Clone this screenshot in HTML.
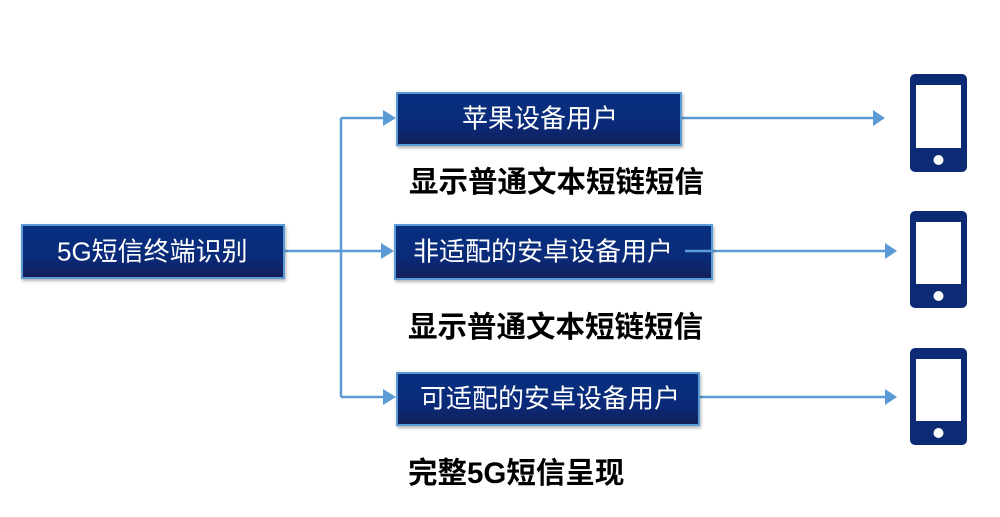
<!DOCTYPE html>
<html><head><meta charset="utf-8"><style>
body{margin:0;width:1000px;height:517px;background:#fff;position:relative;overflow:hidden;font-family:"Liberation Sans","Noto Sans CJK SC",sans-serif}
.b{position:absolute;box-sizing:border-box;border:2px solid #5b9bd5;background:linear-gradient(#06307f,#0a2a7a 60%,#13205a);color:#fff;font-size:26px;box-shadow:1px 2px 3px rgba(0,0,0,.3)}
.b span{position:absolute;top:50%;transform:translateY(-56%);white-space:nowrap}
.t{position:absolute;font-size:29.5px;font-weight:bold;color:#000;white-space:nowrap;line-height:1}
</style></head><body>
<svg width="1000" height="517" style="position:absolute;left:0;top:0">
<g stroke="#5b9bd5" stroke-width="2.5" fill="none">
<line x1="285" y1="251" x2="385" y2="251"/>
<line x1="341" y1="118" x2="341" y2="397"/>
<line x1="341" y1="118" x2="385" y2="118"/>
<line x1="341" y1="397" x2="385" y2="397"/>
</g>
<g fill="#5b9bd5">
<polygon points="383,110 396,118 383,126"/>
<polygon points="381,243 394,251 381,259"/>
<polygon points="383,389 396,397 383,405"/>
<polygon points="873,110 885,118 873,126"/>
<polygon points="885,243 897,251 885,259"/>
<polygon points="885,389 897,397 885,405"/>
</g>
<g stroke="#5b9bd5" stroke-width="2.5">
<line x1="682" y1="118" x2="875" y2="118"/>
<line x1="686" y1="251" x2="887" y2="251"/>
<line x1="700" y1="397" x2="887" y2="397"/>
</g>
<g>
<rect x="910" y="74" width="57" height="98" rx="5" fill="#0d2a75"/><rect x="916" y="85" width="45" height="63" fill="#fff"/><circle cx="938.5" cy="160" r="5" fill="#fff"/>
<rect x="910" y="211" width="57" height="97" rx="5" fill="#0d2a75"/><rect x="916" y="222" width="45" height="62" fill="#fff"/><circle cx="938.5" cy="296" r="5" fill="#fff"/>
<rect x="910" y="348" width="57" height="97" rx="5" fill="#0d2a75"/><rect x="916" y="359" width="45" height="62" fill="#fff"/><circle cx="938.5" cy="433" r="5" fill="#fff"/>
</g>
</svg>
<div class="b" style="left:21px;top:224px;width:264px;height:55px"><span style="left:34px">5G短信终端识别</span></div>
<div class="b" style="left:396px;top:92px;width:286px;height:54px"><span style="left:64px">苹果设备用户</span></div>
<div class="b" style="left:394px;top:224px;width:319px;height:56px;z-index:0"><span style="left:17px">非适配的安卓设备用户</span></div>
<div class="b" style="left:396px;top:372px;width:304px;height:54px"><span style="left:22px">可适配的安卓设备用户</span></div>
<svg width="1000" height="517" style="position:absolute;left:0;top:0"><line x1="685" y1="251" x2="713" y2="251" stroke="#5b9bd5" stroke-width="2.5"/></svg>
<div class="t" style="left:409px;top:168px">显示普通文本短链短信</div>
<div class="t" style="left:408px;top:313px">显示普通文本短链短信</div>
<div class="t" style="left:408px;top:459px">完整5G短信呈现</div>
</body></html>
